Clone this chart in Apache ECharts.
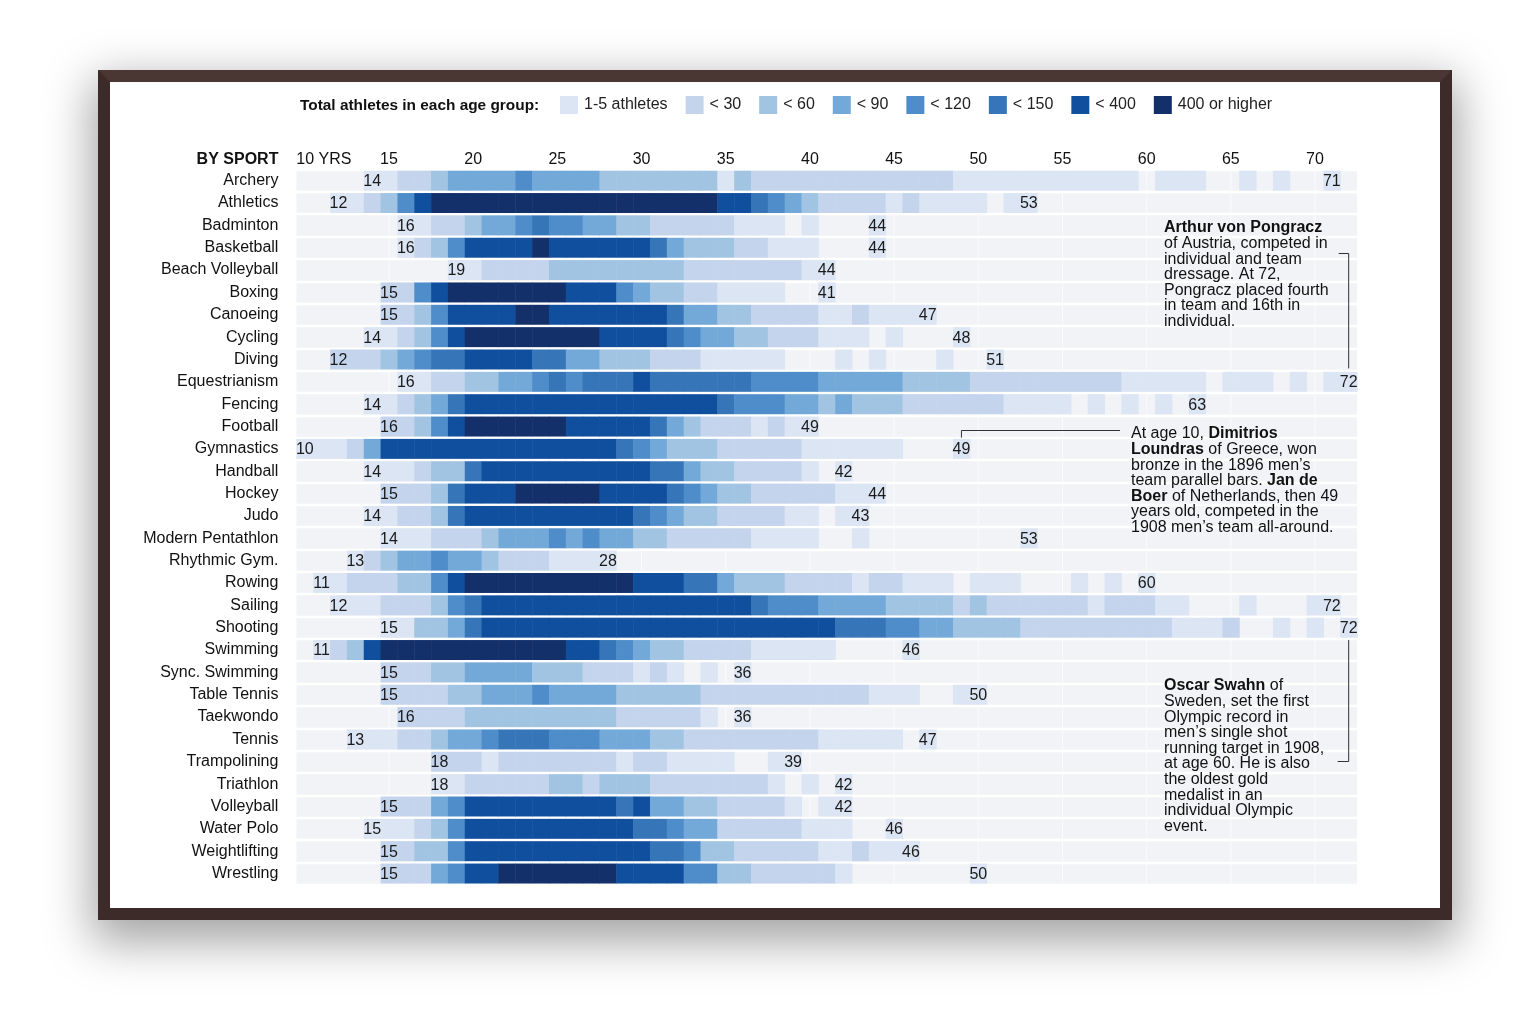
<!DOCTYPE html>
<html>
<head>
<meta charset="utf-8">
<script src="https://cdn.jsdelivr.net/npm/echarts@6/dist/echarts.min.js"></script>
<style>
  html, body { margin: 0; padding: 0; background: #fff; width: 1514px; height: 1010px; overflow: hidden; }
  #frame {
    position: absolute; left: 98px; top: 70px; width: 1330px; height: 826px;
    border: 12px solid #3c2b28; border-top-color: #4a3632; background: #fff;
    box-shadow: 0 16px 44px 6px rgba(0, 0, 0, 0.36);
  }
  #chart { position: absolute; left: 0; top: 0; width: 1514px; height: 1010px; }
</style>
</head>
<body>
<div id="frame"></div>
<div id="chart"></div>
<script>
const FONT = '"Liberation Sans", Arial, Helvetica, sans-serif';

const sports = ['Archery', 'Athletics', 'Badminton', 'Basketball', 'Beach Volleyball', 'Boxing',
  'Canoeing', 'Cycling', 'Diving', 'Equestrianism', 'Fencing', 'Football', 'Gymnastics', 'Handball',
  'Hockey', 'Judo', 'Modern Pentathlon', 'Rhythmic Gym.', 'Rowing', 'Sailing', 'Shooting', 'Swimming',
  'Sync. Swimming', 'Table Tennis', 'Taekwondo', 'Tennis', 'Trampolining', 'Triathlon', 'Volleyball',
  'Water Polo', 'Weightlifting', 'Wrestling'];

const ages = ['10', '11', '12', '13', '14', '15', '16', '17', '18', '19', '20', '21', '22', '23', '24',
  '25', '26', '27', '28', '29', '30', '31', '32', '33', '34', '35', '36', '37', '38', '39', '40', '41',
  '42', '43', '44', '45', '46', '47', '48', '49', '50', '51', '52', '53', '54', '55', '56', '57', '58',
  '59', '60', '61', '62', '63', '64', '65', '66', '67', '68', '69', '70', '71', '72'];

const tickAges = ['10', '15', '20', '25', '30', '35', '40', '45', '50', '55', '60', '65', '70'];

const levelNames = ['1-5 athletes', '< 30', '< 60', '< 90', '< 120', '< 150', '< 400', '400 or higher'];
const levelColors = ['#dbe5f3', '#c4d4ec', '#a0c4e2', '#72a9d8', '#4e8dc9', '#3675b7', '#104f9d', '#14306a'];

// one digit per age, 10 -> 72 (groups of five), 0 = nobody, 1..8 = level
const levelRows = [
  '00001 12234 44454 44433 33333 13222 22222 22221 11111 11111 01110 01010 010',
  '00112 35788 88888 88888 88888 77654 32222 12111 10110 00000 00000 00000 000',
  '00000 01122 34456 55443 32222 21110 10001 00000 00000 00000 00000 00000 000',
  '00000 01235 77778 77777 76433 32211 10001 00000 00000 00000 00000 00000 000',
  '00000 00001 12222 33333 33322 22222 11000 00000 00000 00000 00000 00000 000',
  '00000 22578 88888 87775 43322 11110 01000 00000 00000 00000 00000 00000 000',
  '00000 22357 77788 77777 77644 33222 21121 11100 00000 00000 00000 00000 000',
  '00001 12357 88888 88877 77654 43322 21110 10001 00000 00000 00000 00000 000',
  '00222 34566 77776 64433 32221 11110 00101 00010 01000 00000 00000 00000 000',
  '00000 01122 33445 65666 76666 66555 54444 43333 22222 22221 11110 11101 011',
  '00001 12346 77777 77777 77777 65554 43433 32222 22111 10101 01010 00000 000',
  '00000 22357 88888 87777 76432 22121 10000 00000 00000 00000 00000 00000 000',
  '11124 77777 77777 77776 54333 22222 11111 10001 00000 00000 00000 00000 000',
  '00001 11233 67777 77777 76643 32222 10100 00000 00000 00000 00000 00000 000',
  '00000 22236 77788 88877 77654 33222 22111 00000 00000 00000 00000 00000 000',
  '00001 12236 77777 77777 65433 22221 10110 00000 00000 00000 00000 00000 000',
  '00000 11122 23444 54544 33222 22111 10010 00000 00010 00000 00000 00000 000',
  '00012 34454 43222 11110 00000 00000 00000 00000 00000 00000 00000 00000 000',
  '01122 23357 88888 88888 77766 43332 22212 21110 11100 01010 10000 00000 000',
  '00111 22235 67777 77777 77777 77655 54444 33332 32222 22122 21100 01000 110',
  '00000 11334 67777 77777 77777 77777 77666 55443 33322 22222 22111 20010 101',
  '01237 88888 88888 87765 43322 22111 11000 01000 00000 00000 00000 00000 000',
  '00000 22233 44443 33222 12101 01000 00000 00000 00000 00000 00000 00000 000',
  '00000 22223 34445 44443 33332 22222 22221 11001 10000 00000 00000 00000 000',
  '00000 02222 33333 33332 22221 01000 00000 00000 00000 00000 00000 00000 000',
  '00011 12234 45666 55544 43322 22222 21111 10100 00000 00000 00000 00000 000',
  '00000 00022 21222 22221 22111 10011 00000 00000 00000 00000 00000 00000 000',
  '00000 00011 22222 33233 32222 22210 10100 00000 00000 00000 00000 00000 000',
  '00000 22245 77777 77776 74433 22221 01100 00000 00000 00000 00000 00000 000',
  '00001 11235 77777 77777 66544 22222 11100 10000 00000 00000 00000 00000 000',
  '00000 22335 77777 77777 76653 32222 21121 11000 00000 00000 00000 00000 000',
  '00000 22245 77888 88887 77755 33222 22100 00000 10000 00000 00000 00000 000'
];

// youngest / oldest age as printed at each end of a row
const firstLabels = ['14', '12', '16', '16', '19', '15', '15', '14', '12', '16', '14', '16', '10', '14',
  '15', '14', '14', '13', '11', '12', '15', '11', '15', '15', '16', '13', '18', '18', '15', '15', '15', '15'];
const lastLabels = ['71', '53', '44', '44', '44', '41', '47', '48', '51', '72', '63', '49', '49', '42',
  '44', '43', '53', '28', '60', '72', '72', '46', '36', '50', '36', '47', '39', '42', '42', '46', '46', '50'];

const cells = [];
const endLabels = [];
levelRows.forEach((row, s) => {
  const lv = row.replace(/ /g, '').split('').map(Number);
  let first = -1, last = -1;
  lv.forEach((v, a) => {
    if (v > 0) {
      cells.push([a, s, v]);
      if (first < 0) first = a;
      last = a;
    }
  });
  endLabels.push([first, s, firstLabels[s]]);
  endLabels.push([last, s, lastLabels[s]]);
});

const ROW_GAP = 2.4;

const chart = echarts.init(document.getElementById('chart'));

const option = {
  animation: false,
  backgroundColor: 'transparent',
  textStyle: { fontFamily: FONT },
  title: {
    text: 'Total athletes in each age group:',
    left: 300,
    top: 98,
    padding: 0,
    textStyle: { fontSize: 15.4, fontWeight: 'bold', color: '#111', fontFamily: FONT }
  },
  visualMap: {
    type: 'piecewise',
    seriesIndex: 1,
    dimension: 2,
    orient: 'horizontal',
    left: 560,
    top: 96,
    padding: 0,
    itemWidth: 18,
    itemHeight: 18,
    itemGap: 18,
    textGap: 6,
    itemSymbol: 'rect',
    selectedMode: false,
    hoverLink: false,
    pieces: levelNames.map((name, i) => ({ value: i + 1, label: name, color: levelColors[i] })),
    textStyle: { fontSize: 16, color: '#222', fontFamily: FONT }
  },
  grid: {
    left: 296.4,
    right: 156.9,
    top: 169.5,
    height: 715.2,
    outerBoundsMode: 'none'
  },
  xAxis: {
    type: 'category',
    position: 'top',
    data: ages,
    axisLine: { show: false },
    axisTick: { show: false },
    splitLine: { show: false },
    axisLabel: {
      interval: (i, v) => tickAges.includes(v),
      margin: 2,
      fontSize: 16,
      color: '#111',
      fontFamily: FONT,
      formatter: v => (v === tickAges[0] ? '{first|' + v + ' YRS}' : v),
      rich: { first: { fontSize: 16, color: '#111', fontFamily: FONT, padding: [0, 0, 0, 38] } }
    }
  },
  yAxis: {
    type: 'category',
    data: sports,
    inverse: true,
    name: 'BY SPORT',
    nameLocation: 'start',
    nameGap: 2,
    nameTextStyle: { fontSize: 16, fontWeight: 'bold', color: '#111', align: 'right', padding: [0, 18, 0, 0], fontFamily: FONT },
    axisLine: { show: false },
    axisTick: { show: false },
    axisLabel: { fontSize: 16, color: '#111', margin: 18, fontFamily: FONT },
    splitArea: { show: true, areaStyle: { color: ['#f2f3f6', '#f2f3f6'] } },
    splitLine: { show: true, lineStyle: { color: '#ffffff', width: ROW_GAP } }
  },
  series: [
    {
      // faint vertical guides at the labelled ages
      type: 'custom',
      silent: true,
      data: tickAges.slice(1).map(a => [ages.indexOf(a), 0]),
      encode: { x: 0, y: 1 },
      renderItem: (params, api) => {
        const x = api.coord([api.value(0), 0])[0];
        const cs = params.coordSys;
        return {
          type: 'line',
          shape: { x1: x, y1: cs.y, x2: x, y2: cs.y + cs.height },
          style: { stroke: '#fcfcfd', lineWidth: 1 }
        };
      },
      z: 1
    },
    {
      type: 'custom',
      data: cells,
      encode: { x: 0, y: 1 },
      renderItem: (params, api) => {
        const p = api.coord([api.value(0), api.value(1)]);
        const sz = api.size([1, 1]);
        return {
          type: 'rect',
          shape: { x: p[0] - sz[0] / 2, y: p[1] - sz[1] / 2 + ROW_GAP / 2, width: sz[0] + 0.5, height: sz[1] - ROW_GAP },
          style: { fill: api.visual('color') }
        };
      },
      z: 2
    },
    {
      type: 'custom',
      silent: true,
      data: endLabels,
      encode: { x: 0, y: 1 },
      renderItem: (params, api) => {
        const p = api.coord([api.value(0), api.value(1)]);
        return {
          type: 'text',
          x: p[0],
          y: p[1] + 1,
          style: {
            text: endLabels[params.dataIndex][2],
            fill: '#1a1a1a',
            fontSize: 16,
            fontFamily: FONT,
            align: 'center',
            verticalAlign: 'middle'
          }
        };
      },
      z: 3
    }
  ]
};

chart.setOption(option);

// notes and their leader lines, anchored on the cells they talk about
const px = (age, sport) => chart.convertToPixel({ gridIndex: 0 }, [age, sport]);
const half = chart.convertToPixel({ gridIndex: 0 }, ['10', sports[1]])[1] - chart.convertToPixel({ gridIndex: 0 }, ['10', sports[0]])[1];
const eq = px('72', 'Equestrianism');
const gy = px('49', 'Gymnastics');
const sh = px('72', 'Shooting');

const noteStyle = {
  fontSize: 16,
  lineHeight: 15.6,
  fill: '#111',
  fontFamily: FONT,
  rich: { b: { fontWeight: 'bold', fontSize: 16, lineHeight: 15.6, fontFamily: FONT, fill: '#111' } }
};
const lineStyle = { stroke: '#333', lineWidth: 1, fill: null };

chart.setOption({
  graphic: [
    {
      type: 'text', left: 1164, top: 220, z: 100,
      style: Object.assign({}, noteStyle, {
        text: '{b|Arthur von Pongracz}\nof Austria, competed in\nindividual and team\ndressage. At 72,\nPongracz placed fourth\nin team and 16th in\nindividual.'
      })
    },
    {
      type: 'polyline', z: 100,
      shape: { points: [[eq[0] - 10, 253.5], [eq[0], 253.5], [eq[0], eq[1] - half * 0.6]] },
      style: lineStyle
    },
    {
      type: 'text', left: 1131, top: 426, z: 100,
      style: Object.assign({}, noteStyle, {
        text: 'At age 10, {b|Dimitrios}\n{b|Loundras} of Greece, won\nbronze in the 1896 men\u2019s\nteam parallel bars. {b|Jan de}\n{b|Boer} of Netherlands, then 49\nyears old, competed in the\n1908 men\u2019s team all-around.'
      })
    },
    {
      type: 'polyline', z: 100,
      shape: { points: [[gy[0], gy[1] - half * 0.5], [gy[0], 430.5], [1120, 430.5]] },
      style: lineStyle
    },
    {
      type: 'text', left: 1164, top: 678, z: 100,
      style: Object.assign({}, noteStyle, {
        text: '{b|Oscar Swahn} of\nSweden, set the first\nOlympic record in\nmen\u2019s single shot\nrunning target in 1908,\nat age 60. He is also\nthe oldest gold\nmedalist in an\nindividual Olympic\nevent.'
      })
    },
    {
      type: 'polyline', z: 100,
      shape: { points: [[sh[0], sh[1] + half * 0.55], [sh[0], 761.5], [sh[0] - 11, 761.5]] },
      style: lineStyle
    }
  ]
});
</script>
</body>
</html>
